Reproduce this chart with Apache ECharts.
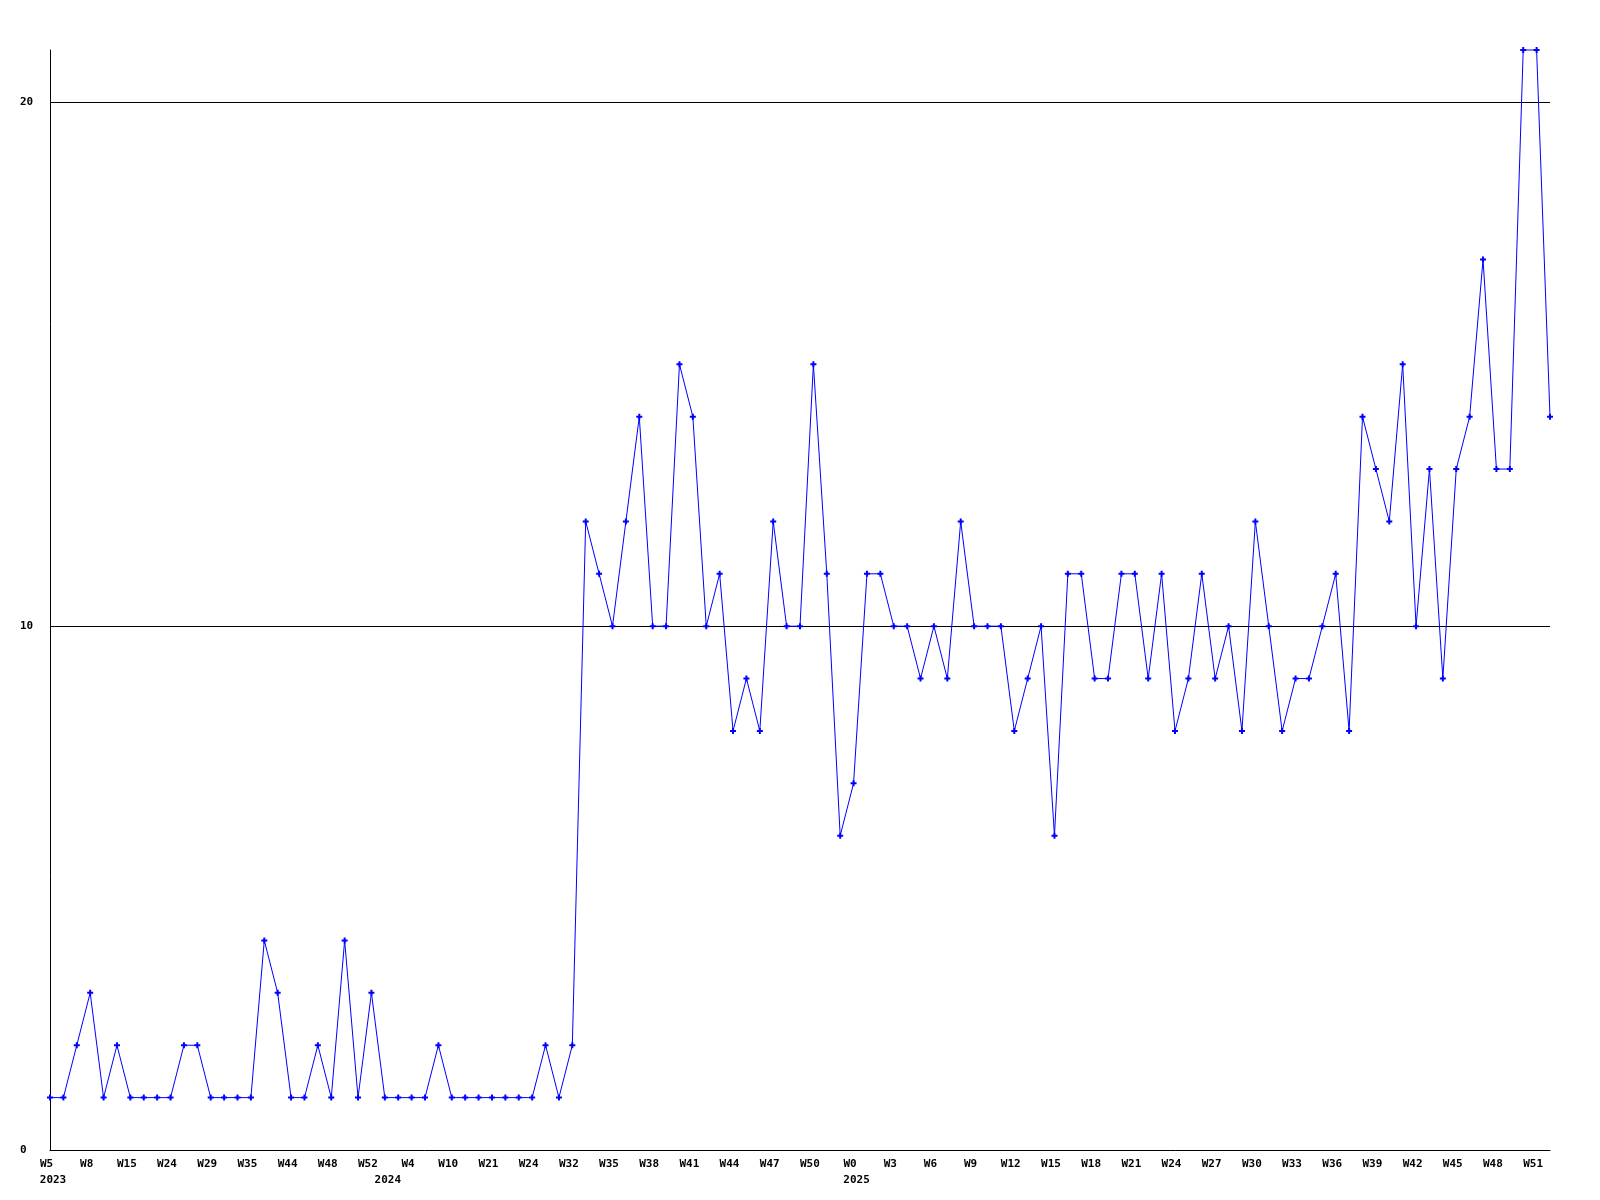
<!DOCTYPE html>
<html>
<head>
<meta charset="utf-8">
<script src="https://cdn.jsdelivr.net/npm/echarts@6/dist/echarts.min.js"></script>
<style>
html,body{margin:0;padding:0;background:#fff;}
#chart{width:1600px;height:1200px;}
</style>
</head>
<body>
<div id="chart"></div>
<script>
// Week numbers per year (in order of the data points)
const weeks2023 = [5,6,7,8,10,12,15,18,21,24,26,27,29,31,33,35,38,41,44,45,46,48,49,50,52];
const weeks2024 = [1,2,4,6,8,10,14,17,21,22,23,24,27,30,32,33,34,35,36,37,38,39,40,41,42,43,44,45,46,47,48,49,50,51,52];
const weeks2025 = [0,1,2,3,4,5,6,7,8,9,10,11,12,13,14,15,16,17,18,19,20,21,22,23,24,25,26,27,28,29,30,31,32,33,34,35,36,37,38,39,40,41,42,43,44,45,46,47,48,49,50,51,52];

// Weekly values
const values = [
  1,1,2,3,1,2,1,1,1,1, 2,2,1,1,1,1,4,3,1,1, 2,1,4,1,3,1,1,1,1,2, 1,1,1,1,1,1,1,2,1,2,
  12,11,10,12,14,10,10,15,14,10, 11,8,9,8,12,10,10,15,11,6, 7,11,11,10,10,9,10,9,12,10, 10,10,8,9,10,6,11,
  11,9,9,11,11,9,11,8,9,11, 9,10,8,12,10,8,9,9,10,11, 8,14,13,12,15,10,13,9,13,14, 17,13,13,21,21,14
];

const yTicks = [0, 10, 20];

const categories = []
  .concat(weeks2023.map(w => '2023-W' + w))
  .concat(weeks2024.map(w => '2024-W' + w))
  .concat(weeks2025.map(w => '2025-W' + w));

function yearOf(i){ return categories[i].split('-')[0]; }
function isYearStart(i){ return i === 0 || yearOf(i) !== yearOf(i-1); }

const font = '"DejaVu Sans Mono", monospace';
const chart = echarts.init(document.getElementById('chart'), null, {renderer:'canvas'});
chart.setOption({
  backgroundColor: '#ffffff',
  animation: false,
  grid: { left: 50, right: 50, top: 50, bottom: 50, containLabel: false },
  xAxis: [
    {
      type: 'category',
      data: categories,
      boundaryGap: false,
      axisLine: { show: true, lineStyle: { color: '#000', width: 1 } },
      axisTick: { show: false },
      splitLine: { show: false },
      axisLabel: {
        interval: 2,
        margin: 9,
        color: '#000',
        fontFamily: font,
        fontWeight: 'bold',
        fontSize: 11,
        padding: [0, 7, 0, 0],
        formatter: v => v.split('-')[1]
      }
    },
    {
      type: 'category',
      data: categories,
      boundaryGap: false,
      position: 'bottom',
      axisLine: { show: false },
      axisTick: { show: false },
      splitLine: { show: false },
      axisLabel: {
        interval: (idx) => isYearStart(idx),
        margin: 25,
        color: '#000',
        fontFamily: font,
        fontWeight: 'bold',
        fontSize: 11,
        padding: [0, 0, 0, 6],
        formatter: v => v.split('-')[0]
      }
    }
  ],
  yAxis: {
    type: 'value',
    min: 0,
    max: 21,
    interval: 10,
    axisLine: { show: true, lineStyle: { color: '#000', width: 1 } },
    axisTick: { show: false },
    splitLine: { show: true, showMinLine: false, showMaxLine: false, lineStyle: { color: '#000', width: 1 } },
    axisLabel: {
      showMaxLabel: false,
      align: 'left',
      margin: 30,
      color: '#000',
      fontFamily: font,
      fontWeight: 'bold',
      fontSize: 11,
      formatter: v => (yTicks.indexOf(v) >= 0 ? String(v) : '')
    }
  },
  series: [{
    type: 'line',
    xAxisIndex: 0,
    data: values,
    symbol: 'path://M2,0 L4,0 L4,2 L6,2 L6,4 L4,4 L4,6 L2,6 L2,4 L0,4 L0,2 L2,2 Z',
    symbolSize: 6,
    showAllSymbol: true,
    itemStyle: { color: '#0000ff' },
    lineStyle: { color: '#0000ff', width: 1 },
    clip: false
  }]
});
</script>
</body>
</html>
